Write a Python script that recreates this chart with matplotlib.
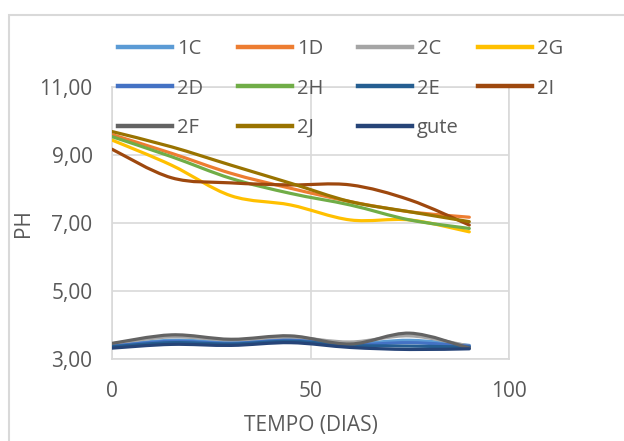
import matplotlib
matplotlib.use("Agg")
import numpy as np
import matplotlib.pyplot as plt
from matplotlib.path import Path
from matplotlib.patches import PathPatch, Rectangle
from matplotlib.lines import Line2D

plt.rcParams['font.family'] = ['Open Sans', 'DejaVu Sans']

# Sampling days
dias = [0, 15, 30, 45, 60, 75, 90]

# pH readings per sample
s_1C = [3.40, 3.55, 3.50, 3.58, 3.45, 3.55, 3.40]
s_1D = [9.60, 9.05, 8.46, 8.02, 7.63, 7.33, 7.17]
s_2C = [3.45, 3.65, 3.56, 3.64, 3.50, 3.68, 3.38]
s_2G = [9.44, 8.70, 7.80, 7.53, 7.09, 7.09, 6.74]
s_2D = [3.38, 3.52, 3.46, 3.55, 3.42, 3.48, 3.38]
s_2H = [9.54, 8.95, 8.31, 7.87, 7.53, 7.09, 6.84]
s_2E = [3.36, 3.48, 3.44, 3.52, 3.40, 3.38, 3.35]
s_2I = [9.17, 8.33, 8.18, 8.12, 8.12, 7.68, 6.94]
s_2F = [3.46, 3.71, 3.58, 3.68, 3.44, 3.76, 3.32]
s_2J = [9.69, 9.24, 8.70, 8.17, 7.63, 7.33, 7.04]
s_gute = [3.32, 3.43, 3.40, 3.48, 3.34, 3.28, 3.30]

labels = ['1C', '1D', '2C', '2G', '2D', '2H', '2E', '2I', '2F', '2J', 'gute']
series = [s_1C, s_1D, s_2C, s_2G, s_2D, s_2H, s_2E, s_2I, s_2F, s_2J, s_gute]
colors = ['#5B9BD5', '#ED7D31', '#A5A5A5', '#FFC000', '#4472C4', '#70AD47',
          '#255E91', '#9E480E', '#636363', '#997300', '#264478']

y_ticks = [3, 5, 7, 9, 11]
x_ticks = [0, 50, 100]

GRID = '#D9D9D9'
TXT = '#595959'
LW = 2.3


def smooth_path(xs, ys):
    """Cubic Bezier path through the points (Excel-style smoothed line)."""
    pts = np.column_stack([xs, ys]).astype(float)
    n = len(pts)
    verts = [pts[0]]
    codes = [Path.MOVETO]
    for i in range(n - 1):
        p0 = pts[i - 1] if i > 0 else pts[i]
        p1 = pts[i]
        p2 = pts[i + 1]
        p3 = pts[i + 2] if i + 2 < n else pts[i + 1]
        verts += [p1 + (p2 - p0) / 6.0, p2 - (p3 - p1) / 6.0, p2]
        codes += [Path.CURVE4] * 3
    return Path(verts, codes)


W, H = 624, 441
fig = plt.figure(figsize=(W / 100, H / 100), dpi=100)
ax = fig.add_axes([112 / W, 1 - 359 / H, (509 - 112) / W, (359 - 87) / H])

for vals, c in zip(series, colors):
    ax.add_patch(PathPatch(smooth_path(dias, vals), fill=False, edgecolor=c,
                           lw=LW, capstyle='round', joinstyle='round', zorder=3))

ax.set_xlim(0, 100)
ax.set_ylim(3, 11)
ax.set_xticks(x_ticks)
ax.set_yticks(y_ticks)
ax.set_yticklabels([f"{v:.2f}".replace('.', ',') for v in y_ticks])
ax.grid(True, color=GRID, lw=1.2, zorder=0)
for sp in ax.spines.values():
    sp.set_color(GRID)
    sp.set_linewidth(1.2)
ax.tick_params(length=0, colors=TXT, labelsize=15)
ax.tick_params(axis='y', pad=14)
ax.tick_params(axis='x', pad=16)
ax.set_xlabel('TEMPO (DIAS)', fontsize=15, color=TXT, labelpad=9)
ax.set_ylabel('PH', fontsize=15, color=TXT, labelpad=4)

# Legend: four equally spaced columns, filled row by row
handles = {lab: Line2D([], [], color=c, lw=3.2) for lab, c in zip(labels, colors)}
columns = [['1C', '2D', '2F'], ['1D', '2H', '2J'],
           ['2C', '2E', 'gute'], ['2G', '2I']]
for j, col in enumerate(columns):
    fig.legend([handles[k] for k in col], col, ncol=1, frameon=False,
               loc='upper left', bbox_to_anchor=((118 + 120 * j) / W, 1 - 39 / H),
               fontsize=14.5, handlelength=2.7, handletextpad=0.22,
               labelspacing=0.97, borderaxespad=0, borderpad=0,
               labelcolor=TXT)

# Chart area border
fig.add_artist(Rectangle((8.5 / W, -0.1), 1.2, 1 - 15 / H + 0.1,
                         transform=fig.transFigure, fill=False,
                         edgecolor=GRID, lw=1.5))

fig.savefig('out.png', dpi=100)
